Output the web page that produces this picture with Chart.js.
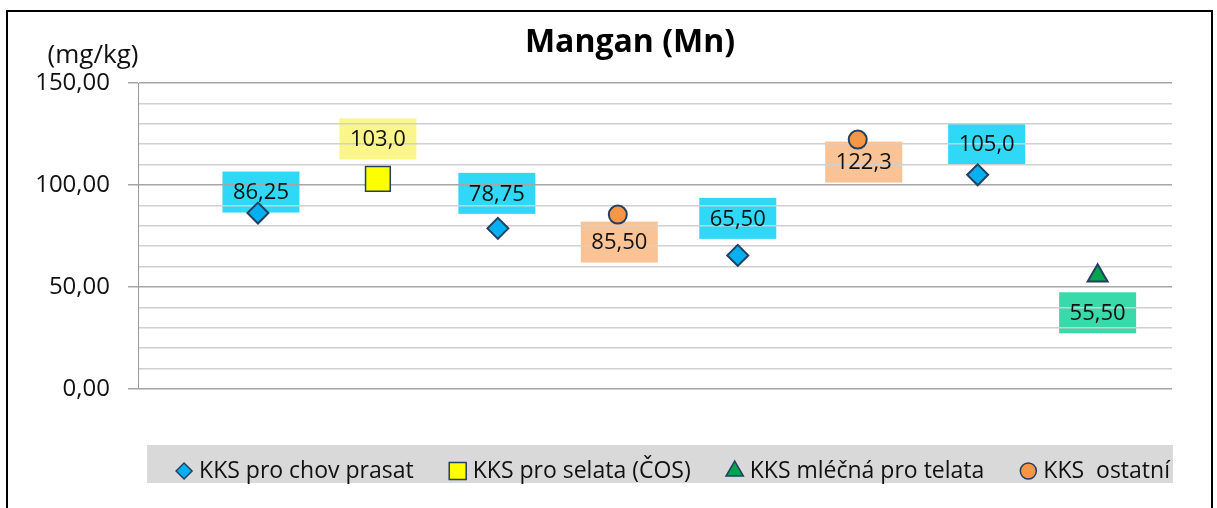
<!DOCTYPE html>
<html>
<head>
<meta charset="utf-8">
<script src="https://cdn.jsdelivr.net/npm/chart.js@4.4.1/dist/chart.umd.min.js"></script>
<style>
  html, body { margin: 0; padding: 0; background: #fff; }
  #wrap { width: 1217px; height: 508px; position: relative; }
</style>
</head>
<body>
<div id="wrap"><canvas id="chart-mangan"></canvas></div>
<script>
// Mangan (Mn) v krmných směsích – hodnoty v mg/kg

const pozice = [1, 2, 3, 4, 5, 6, 7, 8];
const chovPrasat = [86.25, null, 78.75, null, 65.5, null, 105.0, null];
const selata = [null, 103.0, null, null, null, null, null, null];
const mlecnaTelata = [null, null, null, null, null, null, null, 55.5];
const ostatni = [null, null, null, 85.5, null, 122.25, null, null];
const yTicks = [0, 50, 100, 150];

const FONT = '"Open Sans", sans-serif';
Chart.defaults.font.family = FONT;

function body(hodnoty) {
  return pozice.map((x, i) => ({ x, y: hodnoty[i] })).filter(p => p.y !== null);
}

function formatCislo(v, des) {
  return v.toFixed(des).replace('.', ',');
}

// popisek: nad 100 jen jedno desetinné místo (jako v originále)
function formatPopisek(v) {
  return formatCislo(v, v >= 100 ? 1 : 2);
}

// podbarvené rámečky pod grid, text nad gridem
const popisky = {
  id: 'popisky',
  beforeDraw(chart) {
    const ctx = chart.ctx;
    ctx.save();
    chart.data.datasets.forEach((ds, di) => {
      chart.getDatasetMeta(di).data.forEach((pt, i) => {
        const [dx, dy] = ds.labelShift[i];
        ctx.fillStyle = ds.labelColor;
        ctx.fillRect(pt.x + dx - 38.5, pt.y + dy - 20.5, 77, 41);
      });
    });
    ctx.restore();
  },
  beforeDatasetsDraw(chart) {
    const ctx = chart.ctx;
    ctx.save();
    ctx.font = '22px ' + FONT;
    ctx.textAlign = 'center';
    ctx.textBaseline = 'middle';
    ctx.fillStyle = '#111';
    chart.data.datasets.forEach((ds, di) => {
      chart.getDatasetMeta(di).data.forEach((pt, i) => {
        const [dx, dy] = ds.labelShift[i];
        ctx.fillText(formatPopisek(ds.data[i].y), pt.x + dx, pt.y + dy + 1);
      });
    });
    ctx.restore();
  }
};

const ramecek = {
  id: 'ramecek',
  afterDraw(chart) {
    const { ctx, chartArea } = chart;
    ctx.save();

    // titulek + jednotka
    ctx.fillStyle = '#000';
    ctx.textAlign = 'center';
    ctx.textBaseline = 'alphabetic';
    ctx.font = 'bold 32px ' + FONT;
    ctx.fillText('Mangan (Mn)', 630, 52);
    ctx.font = '26px ' + FONT;
    ctx.textBaseline = 'middle';
    ctx.fillStyle = '#111';
    ctx.fillText('(mg/kg)', 93, 56);

    // legenda na šedém pruhu
    ctx.fillStyle = '#D9D9D9';
    ctx.fillRect(chartArea.left + 9, 445, chartArea.right - chartArea.left - 8, 38);

    ctx.font = '23px ' + FONT;
    const sady = chart.data.datasets;
    const sirky = sady.map(ds => ctx.measureText(ds.label).width);
    const celkem = 8 + sirky.reduce((a, w) => a + 15 + w, 0) + 44 * (sady.length - 1);
    let x = 673 - celkem / 2 + 8;
    const y = 471;
    sady.forEach((ds, i) => {
      ctx.fillStyle = ds.backgroundColor;
      ctx.strokeStyle = ds.borderColor;
      ctx.lineWidth = 1.5;
      Chart.helpers.drawPoint(ctx, {
        pointStyle: ds.pointStyle, radius: ds.legendRadius, borderWidth: 1.5, rotation: 0
      }, x, y);
      ctx.fillStyle = '#111';
      ctx.textAlign = 'left';
      ctx.textBaseline = 'middle';
      ctx.fillText(ds.label, x + 15, y);
      x += 15 + sirky[i] + 44;
    });

    // vnější rámeček
    ctx.strokeStyle = '#000';
    ctx.lineWidth = 2;
    ctx.strokeRect(7, 11, 1205, 600);
    ctx.restore();
  }
};

const okraj = '#243F60';

new Chart(document.getElementById('chart-mangan'), {
  type: 'scatter',
  data: {
    datasets: [
      {
        label: 'KKS pro chov prasat', data: body(chovPrasat),
        pointStyle: 'rectRot', pointRadius: 10.5, legendRadius: 8,
        backgroundColor: '#00B0F0', borderColor: okraj, borderWidth: 2,
        labelColor: '#2FD8F7', labelShift: [[3, -21], [-1, -35], [0, -37], [9, -31]]
      },
      {
        label: 'KKS pro selata (ČOS)', data: body(selata),
        pointStyle: 'rect', pointRadius: 17.5, legendRadius: 12,
        backgroundColor: '#FFFF00', borderColor: okraj, borderWidth: 1.5,
        labelColor: '#FAF68A', labelShift: [[0, -40]]
      },
      {
        label: 'KKS mléčná pro telata', data: body(mlecnaTelata),
        pointStyle: 'triangle', pointRadius: 11.5, legendRadius: 10,
        backgroundColor: '#00A550', borderColor: okraj, borderWidth: 2,
        labelColor: '#3AD9A9', labelShift: [[0, 37]]
      },
      {
        label: 'KKS  ostatní', data: body(ostatni),
        pointStyle: 'circle', pointRadius: 9, legendRadius: 8,
        backgroundColor: '#F79646', borderColor: okraj, borderWidth: 2,
        labelColor: '#FAC396', labelShift: [[1.5, 27.5], [6, 22.5]]
      }
    ]
  },
  options: {
    responsive: true,
    maintainAspectRatio: false,
    animation: false,
    layout: { padding: { left: 0, top: 83, right: 45, bottom: 119 } },
    plugins: {
      legend: { display: false },
      tooltip: { enabled: false }
    },
    scales: {
      x: { type: 'linear', min: 0, max: 8.62, display: false },
      y: {
        min: 0,
        max: 150,
        afterFit: s => { s.width = 138; },
        border: { color: '#9A9A9A', width: 1 },
        grid: {
          color: c => (c.tick && c.tick.value % 50 === 0) ? '#A6A6A6' : '#D0D0D0',
          tickColor: c => (c.tick && c.tick.value % 50 === 0) ? '#A6A6A6' : 'rgba(0,0,0,0)',
          tickLength: 10,
          lineWidth: 1.5
        },
        ticks: {
          stepSize: 10,
          padding: 18,
          autoSkip: false,
          color: '#111',
          font: { size: 24 },
          callback: v => yTicks.includes(v) ? formatCislo(v, 2) : ''
        }
      }
    }
  },
  plugins: [popisky, ramecek]
});
</script>
</body>
</html>
